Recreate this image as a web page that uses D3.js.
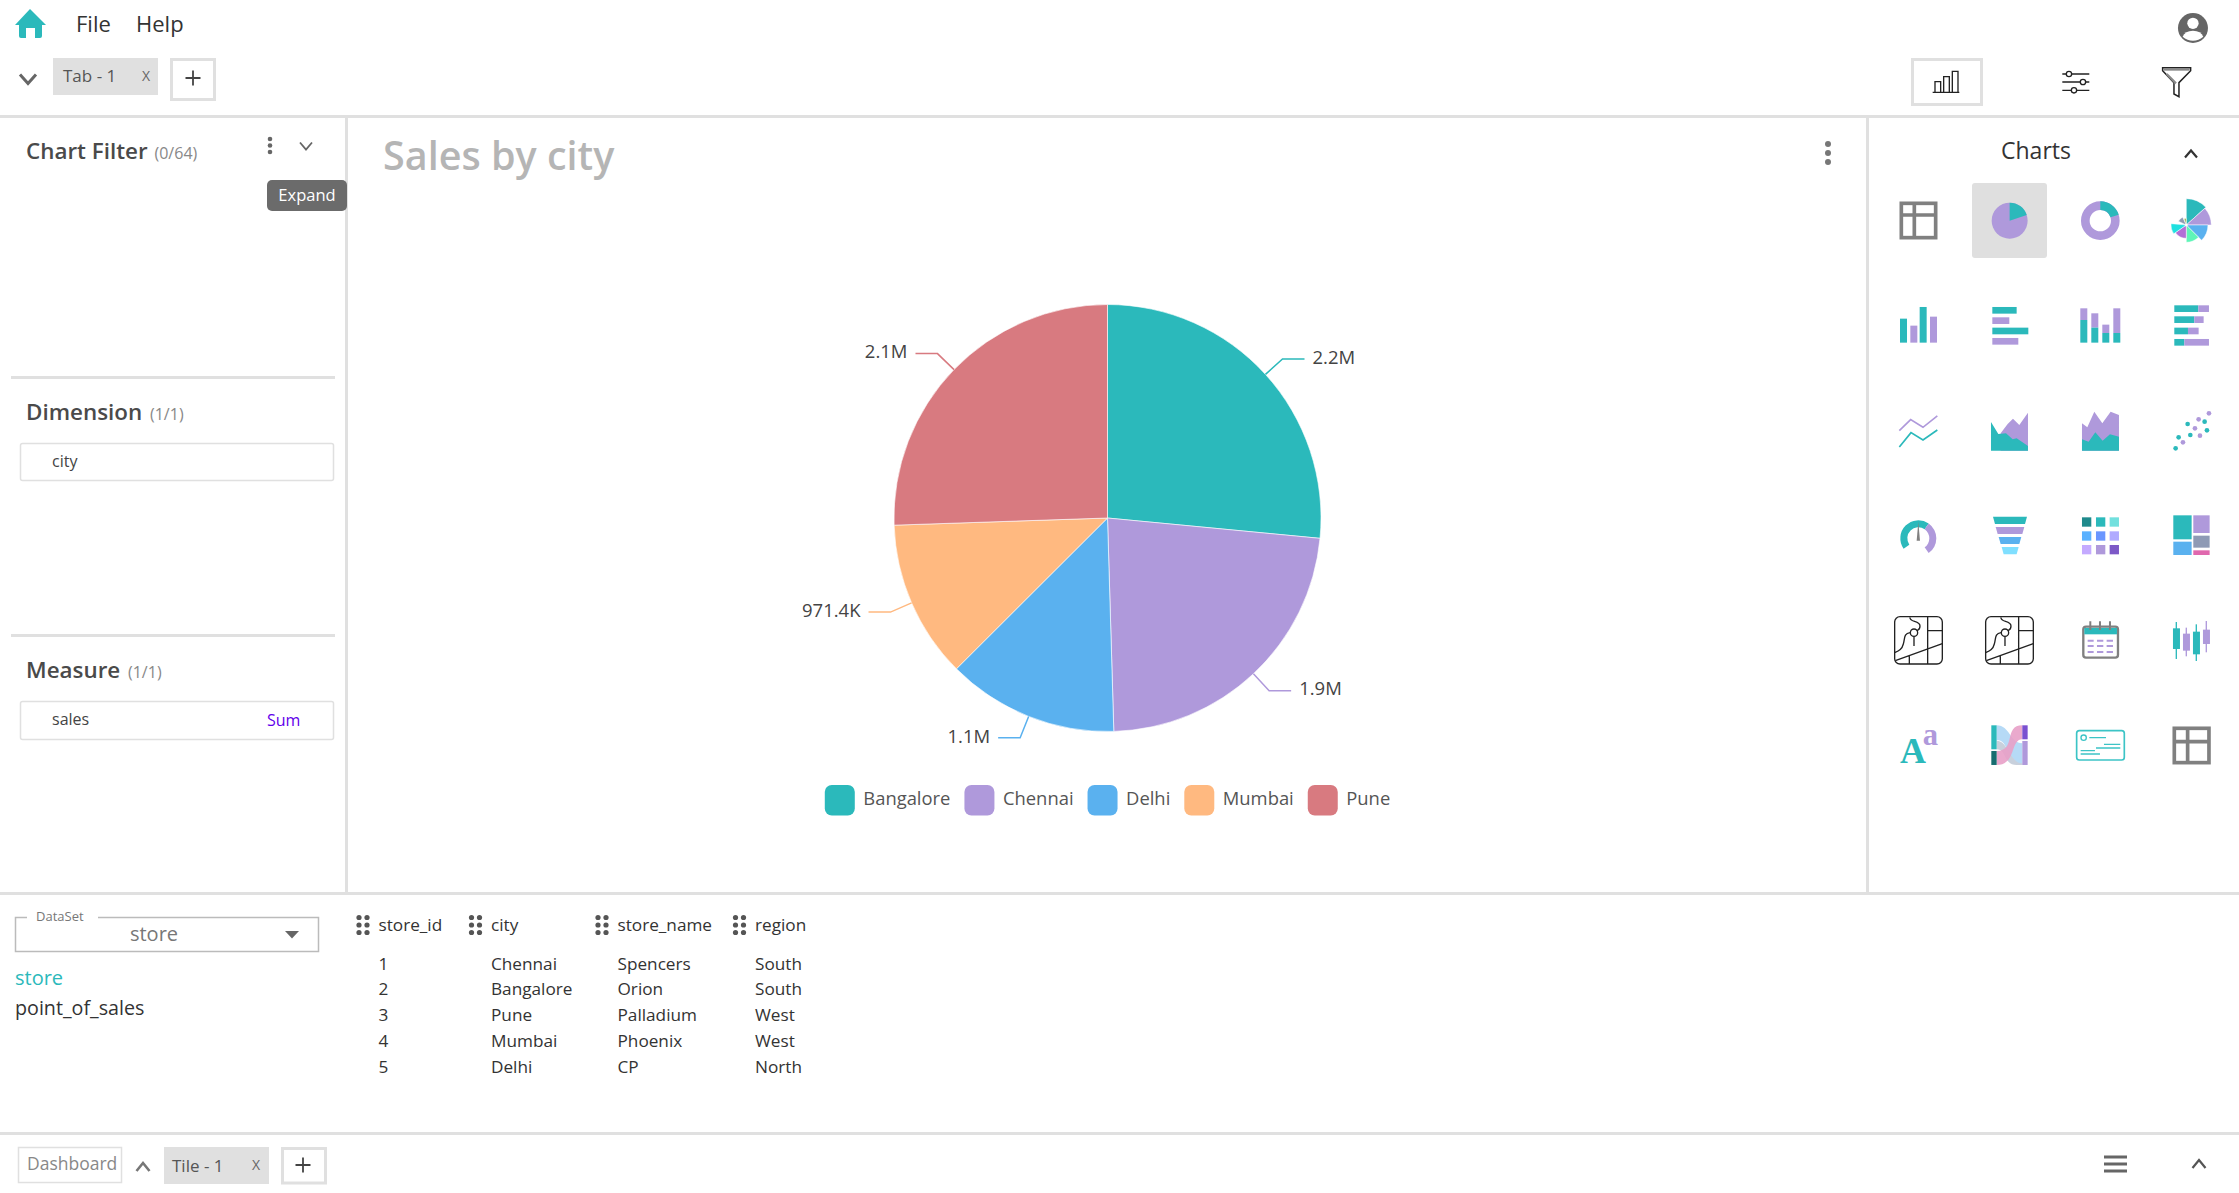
<!DOCTYPE html>
<html>
<head>
<meta charset="utf-8">
<title>Sales by city</title>
<script src="https://cdnjs.cloudflare.com/ajax/libs/d3/7.8.5/d3.min.js"></script>
<style>
    html, body { margin: 0; padding: 0; background: #fff; overflow: hidden; }
    svg { display: block; }
    text { font-family: "Open Sans", "Noto Sans", sans-serif; }
</style>
</head>
<body>
<svg id="page" width="2239" height="1193"></svg>
<script type="text/javascript">
    var cities = ["Bangalore", "Chennai", "Delhi", "Mumbai", "Pune"];
    var sales = [2155000, 1870000, 1055000, 971400, 2075000];
    var cityColors = ["#2bb9bb", "#af99db", "#5ab1ef", "#ffb980", "#d87a80"];

    var tableColumns = ["store_id", "city", "store_name", "region"];
    var storeIds = ["1", "2", "3", "4", "5"];
    var storeCities = ["Chennai", "Bangalore", "Pune", "Mumbai", "Delhi"];
    var storeNames = ["Spencers", "Orion", "Palladium", "Phoenix", "CP"];
    var storeRegions = ["South", "South", "West", "West", "North"];

    var TEAL = "#2bb9bb", PURPLE = "#af99db", LINE = "#e0e0e0";
    var svg = d3.select("#page");

    function rect(g, x, y, w, h, fill, rx) {
        return g.append("rect").attr("x", x).attr("y", y).attr("width", w).attr("height", h)
            .attr("fill", fill).attr("rx", rx || 0);
    }
    function box(g, x, y, w, h, stroke, sw, rx) {
        return rect(g, x, y, w, h, "none", rx).attr("stroke", stroke).attr("stroke-width", sw);
    }
    function label(g, x, y, str, size, color, weight, anchor) {
        return g.append("text").attr("x", x).attr("y", y).text(str)
            .attr("font-size", size).attr("fill", color)
            .attr("font-weight", weight || 400).attr("text-anchor", anchor || "start");
    }
    function path(g, d, fill, stroke, sw) {
        return g.append("path").attr("d", d).attr("fill", fill || "none")
            .attr("stroke", stroke || "none").attr("stroke-width", sw || 0);
    }
    function chevron(g, x, y, w, h, up, color, sw) {
        var a = up ? y + h / 2 : y - h / 2, b = up ? y - h / 2 : y + h / 2;
        path(g, "M" + (x - w / 2) + "," + a + "L" + x + "," + b + "L" + (x + w / 2) + "," + a, "none", color, sw);
    }
    function plus(g, x, y, r, color) {
        path(g, "M" + (x - r) + "," + y + "H" + (x + r) + "M" + x + "," + (y - r) + "V" + (y + r), "none", color, 1.8);
    }
    function dots(g, x, ys, r, color) {
        ys.forEach(function(y){ g.append("circle").attr("cx", x).attr("cy", y).attr("r", r).attr("fill", color); });
    }

    // frame lines
    rect(svg, 0, 115, 2239, 3, LINE);
    rect(svg, 345, 118, 3, 775, LINE);
    rect(svg, 1866, 118, 3, 775, LINE);
    rect(svg, 0, 892, 2239, 3, LINE);
    rect(svg, 0, 1132, 2239, 3, LINE);
    rect(svg, 11, 376, 324, 3, LINE);
    rect(svg, 11, 634, 324, 3, LINE);

    // top bar
    path(svg, "M30,9L46,25H42V36Q42,38 40,38H35V28H26V38H21Q19,38 19,36V25H15Z", TEAL);
    label(svg, 76, 32, "File", 22, "#333");
    label(svg, 136, 32, "Help", 22, "#333");
    chevron(svg, 28, 79, 16, 9, false, "#666", 3);
    rect(svg, 53, 58, 105, 37, LINE);
    label(svg, 63, 82, "Tab - 1", 17, "#555");
    label(svg, 142, 81, "X", 14, "#666");
    box(svg, 171.5, 59.5, 43, 40, LINE, 3);
    plus(svg, 193, 78, 7.5, "#444");

    // top right tool icons, drawn at 3x
    var tools = svg.append("g").attr("transform", "translate(1860,0) scale(0.3333)");
    tools.append("circle").attr("cx", 999).attr("cy", 84).attr("r", 45).attr("fill", "#666");
    tools.append("circle").attr("cx", 999).attr("cy", 70).attr("r", 17).attr("fill", "#fff");
    path(tools, "M968,110Q975,92 999,92Q1023,92 1030,110Q1016,122 999,122Q982,122 968,110Z", "#fff");
    box(tools, 157.5, 178.5, 207, 135, LINE, 9);
    path(tools, "M218,277H298M225,275V245H242V275M251,275V230H268V275M277,275V214H294V275", "none", "#222", 4);
    path(tools, "M607,222H688M607,246H688M607,271H688", "none", "#222", 4);
    [[627, 222], [669, 246], [642, 271]].forEach(function(p){
        tools.append("circle").attr("cx", p[0]).attr("cy", p[1]).attr("r", 8).attr("fill", "#fff").attr("stroke", "#222").attr("stroke-width", 4);
    });
    path(tools, "M908,203H992V212L957,248V290L942,282V248L908,212Z", "#fff", "#222", 4.5);
    path(tools, "M911,208H989", "none", "#888", 8);
    path(tools, "M920,222L948,250", "none", "#888", 7);

    // left panel
    function heading(y, name, count, cx) {
        label(svg, 26, y, name, 22.4, "#4a4a4a", 600);
        label(svg, cx, y, count, 16, "#888");
    }
    heading(159, "Chart Filter", "(0/64)", 154.5);
    heading(420, "Dimension", "(1/1)", 150);
    heading(678, "Measure", "(1/1)", 128);
    dots(svg, 270, [139, 145.5, 152], 2.3, "#666");
    chevron(svg, 306, 146, 12, 7, false, "#666", 1.8);
    rect(svg, 267, 180, 80, 31, "#6b6b6b", 5);
    label(svg, 307, 201, "Expand", 16.5, "#fff", 400, "middle");
    box(svg, 20.5, 443.5, 313, 37, LINE, 1.5, 2);
    label(svg, 52, 467, "city", 16, "#444");
    box(svg, 20.5, 701.5, 313, 38, LINE, 1.5, 2);
    label(svg, 52, 725, "sales", 16, "#444");
    label(svg, 267, 726, "Sum", 16, "#6200ea");

    // chart title
    label(svg, 383, 170, "Sales by city", 39.5, "#b5b5b5", 600);
    dots(svg, 1828, [144, 153, 162], 3, "#777");

    // pie
    var pieCenter = [1107.5, 518], pieRadius = 213.5, pieFirstBend = pieRadius + 23;
    var pie = d3.pie().sort(null).value(function(d){ return d.value; });
    var slices = pie(cities.map(function(c, i){ return {name: c, value: sales[i], color: cityColors[i]}; }));
    var arc = d3.arc().innerRadius(0).outerRadius(pieRadius);
    var edgeArc = d3.arc().innerRadius(pieRadius).outerRadius(pieRadius);
    var bendArc = d3.arc().innerRadius(pieFirstBend).outerRadius(pieFirstBend);
    function fmt(v) {
        return v >= 1e6 ? d3.format(".1f")(v / 1e6) + "M" : d3.format(".1f")(v / 1e3) + "K";
    }
    var pieG = svg.append("g").attr("transform", "translate(" + pieCenter + ")");
    pieG.selectAll("path.slice").data(slices).enter().append("path")
        .attr("class", "slice")
        .attr("d", arc)
        .attr("fill", function(d){ return d.data.color; })
        .attr("stroke", "#fff").attr("stroke-width", 0.6);
    var callouts = pieG.selectAll("g.callout").data(slices).enter().append("g").attr("class", "callout");
    callouts.append("path")
        .attr("fill", "none").attr("stroke-width", 1.5)
        .attr("stroke", function(d){ return d.data.color; })
        .attr("d", function(d){
            var a = edgeArc.centroid(d), b = bendArc.centroid(d);
            var dir = b[0] > 0 ? 1 : -1;
            return "M" + a + "L" + b + "H" + (b[0] + dir * 22);
        });
    callouts.append("text")
        .attr("x", function(d){ var b = bendArc.centroid(d); return b[0] + (b[0] > 0 ? 30 : -30); })
        .attr("y", function(d){ return bendArc.centroid(d)[1]; })
        .attr("dy", "0.26em")
        .attr("text-anchor", function(d){ return bendArc.centroid(d)[0] > 0 ? "start" : "end"; })
        .attr("font-size", 18.5).attr("fill", "#444")
        .text(function(d){ return fmt(d.value); });

    // legend, centred under the pie
    var legend = svg.append("g");
    var legendX = 0, legendGap = 14;
    slices.forEach(function(d){
        var item = legend.append("g").attr("transform", "translate(" + legendX + ",0)");
        rect(item, 0, 785, 30, 30.5, d.data.color, 7);
        var t = label(item, 38.5, 805, d.data.name, 18.4, "#555");
        legendX += 38.5 + t.node().getComputedTextLength() + legendGap;
    });
    legend.attr("transform", "translate(" + (pieCenter[0] - (legendX - legendGap) / 2) + ",0)");

    // chart picker
    label(svg, 2036, 159, "Charts", 23, "#333", 500, "middle");
    chevron(svg, 2191, 154, 12, 7, true, "#333", 2.2);
    rect(svg, 1972, 183, 75, 75, "#dfdfdf", 3);

    var icons = svg.append("g").attr("transform", "translate(1860,120) scale(0.3333)");
    var icons2 = svg.append("g").attr("transform", "translate(1860,500) scale(0.3333)");

    function gridIcon(g, x0, y0, x1, y1, cx, cy) {
        box(g, x0, y0, x1 - x0, y1 - y0, "#808080", 11);
        path(g, "M" + cx + "," + y0 + "V" + y1 + "M" + x0 + "," + cy + "H" + x1, "none", "#808080", 11);
    }
    function wedge(g, cx, cy, r0, r1, a0, a1, fill) {
        var a = d3.arc().innerRadius(r0).outerRadius(r1).startAngle(a0 * Math.PI / 180).endAngle(a1 * Math.PI / 180);
        return g.append("path").attr("d", a()).attr("fill", fill).attr("transform", "translate(" + cx + "," + cy + ")");
    }
    function rects(g, list) {
        list.forEach(function(r){ rect(g, r[0], r[1], r[2] - r[0], r[3] - r[1], r[4] || TEAL); });
    }
    function poly(g, pts, fill) {
        g.append("polygon").attr("points", pts.join(" ")).attr("fill", fill);
    }

    gridIcon(icons, 124, 250, 227, 353, 163, 285);
    wedge(icons, 449, 302, 0, 54, 0, 360, PURPLE);
    wedge(icons, 449, 302, 0, 54, 0, 72, TEAL);
    wedge(icons, 721, 302, 32, 58, 0, 360, PURPLE);
    wedge(icons, 721, 302, 32, 58, 0, 72, TEAL);
    [[0, 48, 79, TEAL], [48, 90, 75, PURPLE], [90, 135, 65, "#5ab1ef"], [135, 180, 52, "#5ff5b8"],
     [180, 235, 40, "#b36fd6"], [235, 275, 46, "#1fe0e0"], [295, 335, 26, "#8f9bb3"], [340, 360, 20, "#97b552"]].forEach(function(w){
        wedge(icons, 979, 315, 4, w[2], w[0], w[1], w[3]).attr("stroke", "#fff").attr("stroke-width", 1.5);
    });

    rects(icons, [[120,596,141,668],[151,617,172,668,PURPLE],[179,561,200,668],[210,590,231,668,PURPLE]]);
    rects(icons, [[397,561,470,581],[397,592,448,612,PURPLE],[397,623,505,643],[397,654,475,674,PURPLE]]);
    rects(icons, [[661,565,682,600,PURPLE],[661,600,682,668],[694,580,715,623,PURPLE],[694,623,715,668],
                  [727,614,748,639,PURPLE],[727,639,748,668],[760,565,781,639,PURPLE],[760,639,781,668]]);
    rects(icons, [[943,556,1015,576],[1015,556,1047,576,PURPLE],[943,589,1003,609],[1003,589,1031,609,PURPLE],
                  [943,623,984,643],[984,623,1016,643,PURPLE],[943,657,973,677],[973,657,1047,677,PURPLE]]);

    path(icons, "M118,932L152,899L189,922L232,888", "none", PURPLE, 5);
    path(icons, "M118,981L153,938L189,960L232,930", "none", TEAL, 5);
    poly(icons, ["422,940","443,912","459,896","478,915","504,878","504,992","422,992"], PURPLE);
    poly(icons, ["393,906","415,942","438,940","458,958","470,955","504,978","504,992","393,992"], TEAL);
    poly(icons, ["666,992","666,910","682,922","703,875","727,910","752,875","777,885","777,992"], PURPLE);
    poly(icons, ["666,958","686,965","706,937","728,962","750,943","777,950","777,992","666,992"], TEAL);
    [[947,985],[956,952],[983,912],[991,945],[1034,905],[1041,931]].forEach(function(p){
        icons.append("circle").attr("cx", p[0]).attr("cy", p[1]).attr("r", 7).attr("fill", TEAL);
    });
    [[969,967],[1005,925],[1016,898],[1020,947],[1047,880]].forEach(function(p){
        icons.append("circle").attr("cx", p[0]).attr("cy", p[1]).attr("r", 7).attr("fill", PURPLE);
    });

    wedge(icons2, 175, 115, 33, 54, -125, 35, TEAL);
    wedge(icons2, 175, 115, 33, 54, 35, 145, PURPLE);
    poly(icons2, ["175,65","170,122","180,122"], "#808080");
    poly(icons2, ["399,50","501,50","495,72","405,72"], TEAL);
    poly(icons2, ["407,81","493,81","487,102","413,102"], PURPLE);
    poly(icons2, ["416,111","484,111","478,132","422,132"], "#5ab1ef");
    poly(icons2, ["425,141","476,141","470,163","431,163"], "#80dfff");
    [["#1f8a8c",TEAL,"#72e0de"],["#5ab1ff","#6a96ff","#b0aaff"],["#c4aaff",PURPLE,"#7d59c7"]].forEach(function(row, r){
        row.forEach(function(c, i){ rect(icons2, [666,708,749][i], [52,94,135][r], 28, 28, c); });
    });
    rects(icons2, [[940,46,995,118],[1000,46,1049,99,PURPLE],[1000,107,1049,143,"#8e9ab5"],[940,125,995,165,"#5ab1ef"],[1000,151,1049,165,"#e068ae"]]);

    function mapIcon(dx) {
        var g = icons2.append("g").attr("transform", "translate(" + dx + ",0)");
        box(g, 104, 350, 143, 142, "#222", 4, 16);
        path(g, "M203,350V492M203,392H247M106,482L247,431M148,467V492M162,409V438", "none", "#222", 4);
        g.append("circle").attr("cx", 162).attr("cy", 398).attr("r", 11).attr("fill", "#fff").attr("stroke", "#222").attr("stroke-width", 4);
        path(g, "M150,352C148,368 180,360 180,378C180,392 172,390 170,392M150,398C130,400 135,418 130,432C126,448 118,452 104,458", "none", "#222", 4);
    }
    mapIcon(0);
    mapIcon(273);

    box(icons2, 670, 380, 104, 93, "#808080", 7, 8);
    rect(icons2, 673, 384, 98, 19, TEAL);
    path(icons2, "M691,364V390M720,364V390M750,364V390", "none", "#808080", 6);
    path(icons2, "M683,422H701M711,422H730M740,422H759M683,438H701M711,438H730M740,438H759M683,456H701M711,456H730M740,456H759", "none", PURPLE, 6);
    [[949,366,477,939,385,447,TEAL],[979,383,469,969,401,452,PURPLE],[1009,373,483,999,395,463,TEAL],[1039,363,457,1029,389,432,PURPLE]].forEach(function(c){
        rect(icons2, c[0] - 2, c[1], 4, c[2] - c[1], c[6]);
        rect(icons2, c[3], c[4], 21, c[5] - c[4], c[6]);
    });

    icons2.append("text").attr("x", 159).attr("y", 788).attr("text-anchor", "middle")
        .style("font-family", "'Liberation Serif', serif").attr("font-weight", 700).attr("font-size", 108).attr("fill", TEAL).text("A");
    icons2.append("text").attr("x", 211).attr("y", 735).attr("text-anchor", "middle")
        .style("font-family", "'Liberation Serif', serif").attr("font-weight", 700).attr("font-size", 92).attr("fill", PURPLE).text("a");

    path(icons2, "M410,676C450,676 450,730 487,730V795C440,795 450,720 410,720Z", "#b2d8f5").attr("opacity", 0.95);
    path(icons2, "M410,722C445,722 450,790 487,790V795H470C430,795 440,748 410,748Z", "#c8d0dc");
    path(icons2, "M410,753C470,753 430,676 487,676V718C450,718 470,795 410,795Z", "#e8a0c8").attr("opacity", 0.9);
    rects(icons2, [[394,676,410,748],[394,753,410,795,"#176d70"],[487,676,503,718,"#7a50d0"],[487,723,503,795,PURPLE]]);

    box(icons2, 650, 692, 143, 88, "#3cc4c6", 5, 8);
    icons2.append("circle").attr("cx", 671).attr("cy", 713).attr("r", 8).attr("fill", "none").attr("stroke", "#3cc4c6").attr("stroke-width", 4);
    path(icons2, "M688,713H738M732,733H781M708,744H781M662,752H705M662,762H720", "none", "#3cc4c6", 4);

    gridIcon(icons2, 943, 685, 1047, 788, 983, 725);

    // dataset selector
    box(svg, 15.5, 917.5, 303, 34, "#bbb", 1.5);
    rect(svg, 27, 912, 71, 10, "#fff");
    label(svg, 36, 921, "DataSet", 13, "#777");
    label(svg, 154, 941, "store", 20, "#777", 400, "middle");
    path(svg, "M285,931H299L292,938.5Z", "#666");
    label(svg, 15, 985, "store", 20, TEAL, 500);
    label(svg, 15, 1015, "point_of_sales", 19.7, "#333");

    // table preview
    var columnX = [378.5, 491, 617.5, 755];
    var rowY = [970, 995, 1021, 1047, 1072.5];
    var columnValues = [storeIds, storeCities, storeNames, storeRegions];
    tableColumns.forEach(function(name, i){
        var x = columnX[i];
        [x - 19.5, x - 11.5].forEach(function(dx){ dots(svg, dx, [917.5, 925, 932.5], 2.6, "#555"); });
        label(svg, x, 931, name, 17.2, "#333", 500);
        columnValues[i].forEach(function(v, r){ label(svg, x, rowY[r], v, 17.2, "#333"); });
    });

    // bottom bar
    box(svg, 18.5, 1147.5, 103, 35, LINE, 1.5);
    label(svg, 27, 1170, "Dashboard", 17.5, "#888");
    chevron(svg, 143, 1167, 13, 8, true, "#777", 2.6);
    rect(svg, 164, 1147, 105, 37, LINE);
    label(svg, 172, 1172, "Tile - 1", 17, "#555");
    label(svg, 252, 1170, "X", 14, "#666");
    box(svg, 282.5, 1148.5, 43, 34.5, LINE, 3);
    plus(svg, 303, 1165, 7.5, "#444");
    path(svg, "M2104,1157H2127M2104,1164H2127M2104,1171H2127", "none", "#666", 3);
    chevron(svg, 2199, 1164, 13, 8, true, "#555", 2.2);
</script>
</body>
</html>
